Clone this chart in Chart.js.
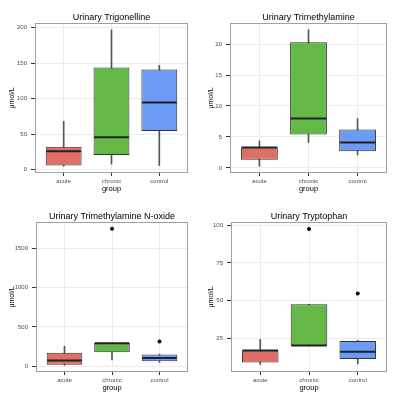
<!DOCTYPE html>
<html>
<head>
<meta charset="utf-8">
<script src="https://cdn.jsdelivr.net/npm/chart.js@4.4.1/dist/chart.umd.min.js"></script>
<style>
  body { margin: 0; background: #fff; }
  #wrap { position: relative; width: 398px; height: 398px; }
  canvas { position: absolute; }
</style>
</head>
<body>
<div id="wrap">
  <canvas id="c1" width="199" height="199" style="left:0;top:0"></canvas>
  <canvas id="c2" width="199" height="199" style="left:199px;top:0"></canvas>
  <canvas id="c3" width="199" height="199" style="left:0;top:199px"></canvas>
  <canvas id="c4" width="199" height="199" style="left:199px;top:199px"></canvas>
</div>
<script>
const groups = ['acute', 'chronic', 'control'];
const fills = ['#DF6E66', '#63B847', '#6C9AF5'];

// Urinary Trigonelline
const trigLow = [5, 8, 6];
const trigQ1 = [6, 20.7, 54.6];
const trigMed = [26, 45.6, 94.6];
const trigQ3 = [32.5, 144, 141];
const trigHigh = [68, 197, 147];
const trigOutGroup = [];
const trigOutVal = [];
const trigTicks = [0, 50, 100, 150, 200];

// Urinary Trimethylamine
const tmaLow = [0.27, 4.1, 2.1];
const tmaQ1 = [1.3, 5.4, 2.7];
const tmaMed = [3.3, 7.96, 4.1];
const tmaQ3 = [3.3, 20.3, 6.2];
const tmaHigh = [4.36, 22.3, 7.96];
const tmaOutGroup = [];
const tmaOutVal = [];
const tmaTicks = [0, 5, 10, 15, 20];

// Urinary Trimethylamine N-oxide
const tmaoLow = [15, 81, 51];
const tmaoQ1 = [22, 178, 64];
const tmaoMed = [76, 292, 107];
const tmaoQ3 = [174, 295, 149];
const tmaoHigh = [254, 295, 155];
const tmaoOutGroup = ['chronic', 'control'];
const tmaoOutVal = [1746, 314];
const tmaoTicks = [0, 500, 1000, 1500];

// Urinary Tryptophan
const trpLow = [7.4, 20.1, 7.8];
const trpQ1 = [8.7, 20.1, 11.1];
const trpMed = [16.7, 20.1, 15.8];
const trpQ3 = [16.7, 47.5, 23];
const trpHigh = [24.1, 47.5, 23.5];
const trpOutGroup = ['chronic', 'control'];
const trpOutVal = [97.5, 54.6];
const trpTicks = [25, 50, 75, 100];

const FONT = "'Liberation Sans', Arial, sans-serif";

// medians + panel border, drawn on top of the boxes
const boxExtras = {
    id: 'boxExtras',
    afterLayout(chart) {
        // centre the title over the panel, like ggplot does
        const t = chart.titleBlock;
        if (t) {
            t.left = chart.chartArea.left;
            t.right = chart.chartArea.right;
        }
    },
    afterDatasetsDraw(chart, args, opts) {
        const ctx = chart.ctx;
        const a = chart.chartArea;
        const meta = chart.getDatasetMeta(1);
        const y = chart.scales.y;
        ctx.save();
        ctx.strokeStyle = '#222';
        ctx.lineWidth = 2;
        meta.data.forEach((bar, i) => {
            const py = y.getPixelForValue(opts.medians[i]);
            ctx.beginPath();
            ctx.moveTo(bar.x - bar.width / 2 + 0.5, py);
            ctx.lineTo(bar.x + bar.width / 2 - 0.5, py);
            ctx.stroke();
        });
        ctx.strokeStyle = '#A0A0A0';
        ctx.lineWidth = 1;
        ctx.strokeRect(Math.round(a.left) + 0.5, Math.round(a.top) + 0.5,
            Math.round(a.width) - 1, Math.round(a.height) - 1);
        ctx.restore();
    }
};

function boxChart(id, title, lo, q1, med, q3, hi, outGroup, outVal, ticks, yMin, yMax, left) {
    const pos = groups.map((g, i) => i + 1);
    new Chart(document.getElementById(id), {
        type: 'bar',
        data: {
            datasets: [
                {
                    type: 'scatter',
                    data: outGroup.map((g, i) => ({ x: groups.indexOf(g) + 1, y: outVal[i] })),
                    backgroundColor: '#000',
                    borderWidth: 0,
                    pointRadius: 2,
                    order: 0
                },
                {
                    data: pos.map((x, i) => ({ x: x, y: [q1[i], q3[i]] })),
                    backgroundColor: fills,
                    borderColor: '#333',
                    borderWidth: 1,
                    borderSkipped: false,
                    grouped: false,
                    categoryPercentage: 1,
                    barPercentage: 0.75,
                    order: 1
                },
                {
                    data: pos.map((x, i) => ({ x: x, y: [lo[i], hi[i]] })),
                    backgroundColor: '#555',
                    barThickness: 1,
                    grouped: false,
                    order: 2
                }
            ]
        },
        options: {
            responsive: false,
            animation: false,
            layout: { padding: { left: 2, right: 11, top: 0, bottom: 4 } },
            plugins: {
                legend: { display: false },
                tooltip: { enabled: false },
                title: {
                    display: true,
                    text: title,
                    color: '#000',
                    font: { family: FONT, size: 9, weight: 'normal', lineHeight: 1 },
                    padding: { top: 13.5, bottom: 0.5 }
                },
                boxExtras: { medians: med }
            },
            scales: {
                x: {
                    type: 'linear',
                    min: 0.4,
                    max: 3.6,
                    offset: false,
                    afterBuildTicks: s => { s.ticks = pos.map(v => ({ value: v })); },
                    afterFit: s => { s.height = 22; },
                    ticks: {
                        callback: v => groups[v - 1],
                        font: { family: FONT, size: 6 },
                        color: '#4D4D4D',
                        padding: 2,
                        maxRotation: 0
                    },
                    grid: { color: '#EBEBEB', tickColor: '#333', tickLength: 3, offset: false },
                    border: { display: false },
                    title: {
                        display: true,
                        text: 'group',
                        color: '#000',
                        font: { family: FONT, size: 7.5 },
                        padding: { top: 0, bottom: 1.5 }
                    }
                },
                y: {
                    min: yMin,
                    max: yMax,
                    afterBuildTicks: s => { s.ticks = ticks.map(v => ({ value: v })); },
                    afterFit: s => { s.width = left - 2; },
                    ticks: {
                        callback: v => String(v),
                        font: { family: FONT, size: 6 },
                        color: '#4D4D4D',
                        padding: 4
                    },
                    grid: { color: '#EBEBEB', tickColor: '#333', tickLength: 4 },
                    border: { display: false },
                    title: {
                        display: true,
                        text: 'μmol/L',
                        color: '#000',
                        font: { family: FONT, size: 7 },
                        padding: { top: 6, bottom: 0 }
                    }
                }
            }
        },
        plugins: [boxExtras]
    });
}

boxChart('c1', 'Urinary Trigonelline', trigLow, trigQ1, trigMed, trigQ3, trigHigh,
    trigOutGroup, trigOutVal, trigTicks, -4.6, 206.6, 35);
boxChart('c2', 'Urinary Trimethylamine', tmaLow, tmaQ1, tmaMed, tmaQ3, tmaHigh,
    tmaOutGroup, tmaOutVal, tmaTicks, -0.83, 23.4, 31);
boxChart('c3', 'Urinary Trimethylamine N-oxide', tmaoLow, tmaoQ1, tmaoMed, tmaoQ3, tmaoHigh,
    tmaoOutGroup, tmaoOutVal, tmaoTicks, -71.5, 1832, 36);
boxChart('c4', 'Urinary Tryptophan', trpLow, trpQ1, trpMed, trpQ3, trpHigh,
    trpOutGroup, trpOutVal, trpTicks, 2.4, 102.2, 32);
</script>
</body>
</html>
